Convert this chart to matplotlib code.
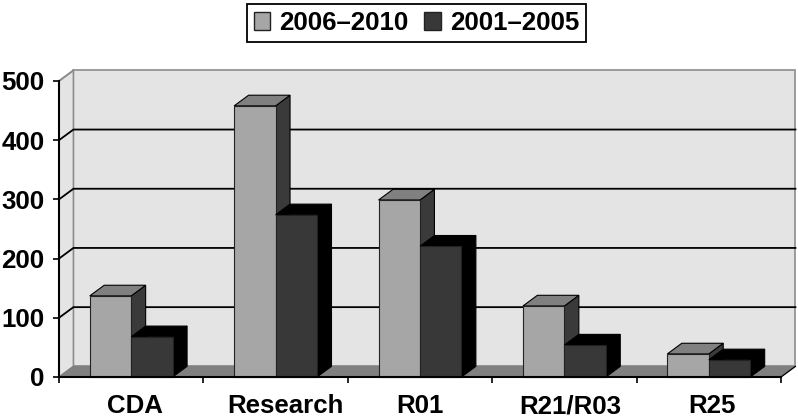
import matplotlib
matplotlib.use("Agg")
import matplotlib.pyplot as plt
from matplotlib.patches import Polygon, Patch
from matplotlib.transforms import ScaledTranslation

categories = ["CDA", "Research", "R01", "R21/R03", "R25"]
values_2006_2010 = [137, 458, 299, 120, 39]
values_2001_2005 = [68, 274, 221, 54, 29]
series_names = ["2006\u20132010", "2001\u20132005"]
y_ticks = [0, 100, 200, 300, 400, 500]

# labels in the original sit a little off the category centres (pixels)
label_shift = [4, 10, 0, 6, 3]

# depth of the fake 3d, in data units
dx = 0.1
dy = 18
bar_w = 0.287

plt.rcParams["font.family"] = ["Liberation Sans", "DejaVu Sans"]
plt.rcParams["font.weight"] = "bold"
plt.rcParams["font.size"] = 18.6

fig = plt.figure(figsize=(7.98, 4.2), dpi=100)
ax = fig.add_axes([59 / 798, 43 / 420, 722 / 798, 296 / 420])
ax.set_xlim(0, 5)
ax.set_ylim(0, 500)
ax.patch.set_visible(False)


def poly(pts, color, edge="black", lw=0.8, z=1):
    ax.add_patch(Polygon(pts, closed=True, facecolor=color, edgecolor=edge,
                         linewidth=lw, zorder=z, clip_on=False))


# walls and floor
poly([(dx, dy), (5 + dx, dy), (5 + dx, 500 + dy), (dx, 500 + dy)], "#e4e4e4", "#8c8c8c", 1.2)
poly([(0, 0), (dx, dy), (dx, 500 + dy), (0, 500)], "#e4e4e4", "#8c8c8c", 1.2)
poly([(0, 0), (5, 0), (5 + dx, dy), (dx, dy)], "#808080", "#808080", 0.8, 1.1)

for t in y_ticks[1:-1]:
    ax.plot([0, dx, 5 + dx], [t, t + dy, t + dy], color="black", lw=1.3, zorder=1.5, clip_on=False)
ax.plot([0, dx], [500, 500 + dy], color="#8c8c8c", lw=1.2, zorder=1.5, clip_on=False)
ax.plot([5, 5 + dx], [0, dy], color="black", lw=0.9, zorder=1.5, clip_on=False)


def bar3d(x0, h, front, top, side, z):
    x1 = x0 + bar_w
    poly([(x1, 0), (x1 + dx, dy), (x1 + dx, h + dy), (x1, h)], side, z=z)
    poly([(x0, h), (x1, h), (x1 + dx, h + dy), (x0 + dx, h + dy)], top, z=z)
    poly([(x0, 0), (x1, 0), (x1, h), (x0, h)], front, "#222222", z=z)


for i in range(len(categories)):
    left = i + 0.5 - bar_w
    bar3d(left, values_2006_2010[i], "#a6a6a6", "#808080", "#3a3a3a", 2 + i)
    bar3d(left + bar_w, values_2001_2005[i], "#383838", "#000000", "#000000", 2.5 + i)

# axes
for s in ["top", "right"]:
    ax.spines[s].set_visible(False)
for s in ["left", "bottom"]:
    ax.spines[s].set_linewidth(1.5)
    ax.spines[s].set_zorder(20)
ax.set_yticks(y_ticks)
ax.set_xticks([i + 0.5 for i in range(5)])
ax.set_xticklabels(categories)
ax.set_xticks(range(6), minor=True)
ax.tick_params(axis="x", which="major", length=0, pad=26)
ax.tick_params(axis="x", which="minor", length=4.3, width=1.2)
ax.tick_params(axis="y", length=4.3, width=1.2, pad=6)

for lab, shift in zip(ax.get_xticklabels(), label_shift):
    lab.set_va("baseline")
    lab.set_transform(lab.get_transform() + ScaledTranslation(shift / 100, 0, fig.dpi_scale_trans))

handles = [Patch(facecolor="#a6a6a6", edgecolor="#222222", label=series_names[0]),
           Patch(facecolor="#383838", edgecolor="#222222", label=series_names[1])]
leg = fig.legend(handles=handles, ncol=2, loc="center", bbox_to_anchor=(416.5 / 798, 1 - 23 / 420),
                 fancybox=False, edgecolor="black", framealpha=1, fontsize=18.6,
                 handlelength=0.65, handleheight=0.65, handletextpad=0.35, columnspacing=0.6,
                 borderpad=0.27, borderaxespad=0)
leg.get_frame().set_linewidth(1.3)

fig.savefig("out.png", dpi=100)
